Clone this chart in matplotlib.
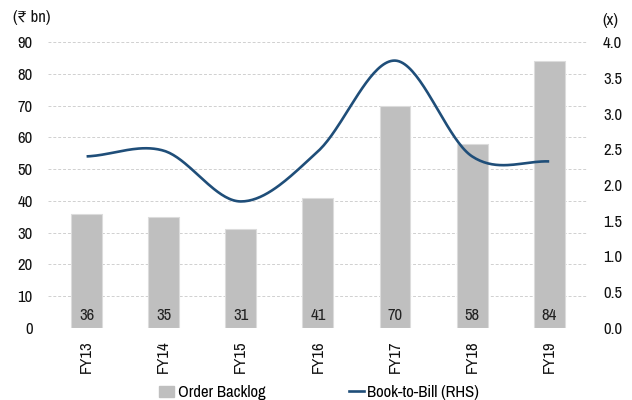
import numpy as np
import matplotlib
matplotlib.use("Agg")
import matplotlib.pyplot as plt
from matplotlib.patches import Patch
from matplotlib.lines import Line2D

years = ["FY13", "FY14", "FY15", "FY16", "FY17", "FY18", "FY19"]
order_backlog = [36, 35, 31, 41, 70, 58, 84]
book_to_bill = [2.40, 2.48, 1.77, 2.47, 3.74, 2.40, 2.33]

BAR = "#BFBFBF"
LINE = "#1F4E79"
FONT = ["Archivo Narrow", "Liberation Sans", "DejaVu Sans"]
plt.rcParams["font.family"] = FONT
plt.rcParams["font.size"] = 12


def smooth(xs, ys, n=40, tension=0.5):
    """Cardinal spline through the points (smoothed-line style)."""
    xs = np.asarray(xs, float)
    ys = np.asarray(ys, float)
    px = np.concatenate([[2 * xs[0] - xs[1]], xs, [2 * xs[-1] - xs[-2]]])
    py = np.concatenate([[ys[0]], ys, [ys[-1]]])
    ox, oy = [], []
    for i in range(1, len(px) - 2):
        t = np.linspace(0, 1, n, endpoint=(i == len(px) - 3))
        h00 = 2 * t**3 - 3 * t**2 + 1
        h10 = t**3 - 2 * t**2 + t
        h01 = -2 * t**3 + 3 * t**2
        h11 = t**3 - t**2
        mx0 = tension * (px[i + 1] - px[i - 1])
        mx1 = tension * (px[i + 2] - px[i])
        my0 = tension * (py[i + 1] - py[i - 1])
        my1 = tension * (py[i + 2] - py[i])
        ox.append(h00 * px[i] + h10 * mx0 + h01 * px[i + 1] + h11 * mx1)
        oy.append(h00 * py[i] + h10 * my0 + h01 * py[i + 1] + h11 * my1)
    return np.concatenate(ox), np.concatenate(oy)


fig = plt.figure(figsize=(6.32, 4.0), dpi=100)
ax = fig.add_axes([0.076, 0.18, 0.854, 0.715])
x = np.arange(len(years))

ax.bar(x, order_backlog, width=0.4, color=BAR, edgecolor="#DCDCDC", linewidth=0.8, zorder=2)
for xi, v in zip(x, order_backlog):
    ax.text(xi, 4, f"{v}", ha="center", va="center", fontsize=12, color="#222222", zorder=3)

ax.set_ylim(0, 90)
ax.set_yticks(range(0, 91, 10))
ax.set_xlim(-0.5, len(years) - 0.5)
ax.set_xticks(x)
ax.set_xticklabels(years, rotation=90)
ax.grid(axis="y", color="#D0D0D0", linestyle=(0, (3, 2)), linewidth=0.7, zorder=0)
ax.set_axisbelow(True)
for s in ax.spines.values():
    s.set_visible(False)
ax.tick_params(length=0, pad=11, labelsize=12, labelcolor="#111111")
ax.tick_params(axis="x", pad=9)

ax2 = ax.twinx()
sx, sy = smooth(x, book_to_bill)
ax2.plot(sx, sy, color=LINE, linewidth=1.9, zorder=4, solid_capstyle="butt")
ax2.set_ylim(0, 4.0)
rt = np.arange(0, 4.01, 0.5)
ax2.set_yticks(rt)
ax2.set_yticklabels([f"{v:.1f}" for v in rt])
for s in ax2.spines.values():
    s.set_visible(False)
ax2.tick_params(length=0, pad=11, labelsize=12, labelcolor="#111111")

fig.text(0.02, 0.957, "(₹ bn)", fontsize=12, ha="left", va="center", color="#111111",
         family=["Archivo Narrow", "DejaVu Sans"])
fig.text(0.953, 0.95, "(x)", fontsize=12, ha="left", va="center", color="#111111")

handles = [Patch(facecolor=BAR, edgecolor=BAR),
           Line2D([0], [0], color=LINE, linewidth=1.9)]
fig.legend(handles, ["Order Backlog", "Book-to-Bill (RHS)"], loc="center",
           bbox_to_anchor=(0.505, 0.018), ncol=2, frameon=False, fontsize=12,
           handlelength=0.9, handletextpad=0.2, columnspacing=5.0,
           borderpad=0, borderaxespad=0)

fig.savefig("out.png", dpi=100)
